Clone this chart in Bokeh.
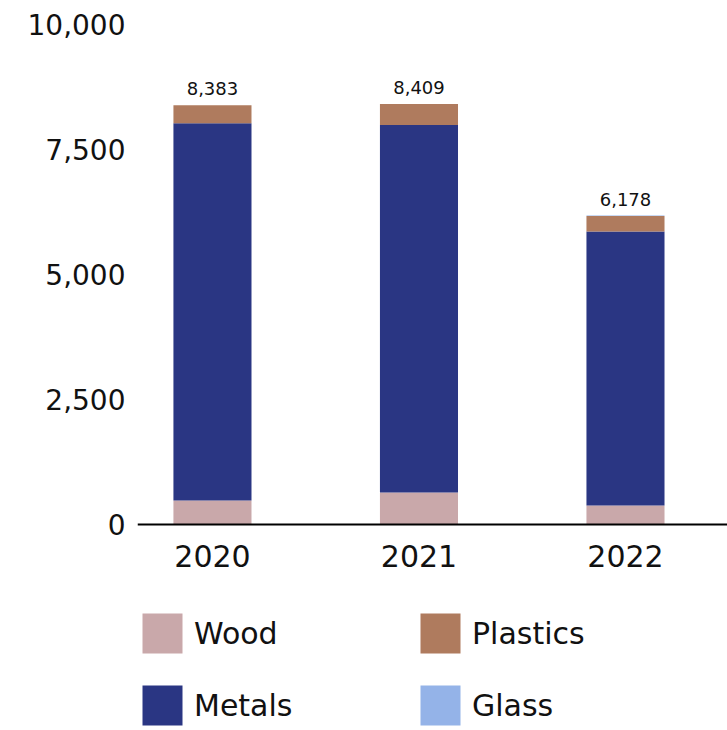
from bokeh.plotting import figure
from bokeh.models import (Range1d, FixedTicker, Legend, LegendItem, ColumnDataSource,
                          NumeralTickFormatter, Span)
from bokeh.embed import file_html
from bokeh.resources import INLINE
from bokeh.core.properties import value

# ---- data ----
years = ["2020", "2021", "2022"]
wood = [480, 640, 380]
metals = [7543, 7349, 5478]
plastics = [360, 420, 310]
glass = [0, 0, 10]
materials = ["Wood", "Metals", "Plastics", "Glass"]
colors = ["#C9A8AA", "#2A3683", "#AF7B5E", "#94B3E8"]
y_ticks = [0, 2500, 5000, 7500, 10000]

FONT = "DejaVu Sans"

x = list(range(len(years)))
totals = [sum(v) for v in zip(wood, metals, plastics, glass)]
source = ColumnDataSource(dict(
    x=x, year=years, base=[0] * len(years),
    Wood=wood, Metals=metals, Plastics=plastics, Glass=glass,
    total=totals, total_label=[f"{t:,}" for t in totals]))

# frame extends below the zero line to leave room for year labels and legend
p = figure(width=727, height=730, output_backend="svg", toolbar_location=None,
           x_range=Range1d(-0.363, 2.494), y_range=Range1d(-4120, 10000),
           x_axis_location=None,
           min_border_left=137, min_border_right=0, min_border_top=24,
           min_border_bottom=0)
p.outline_line_color = None
p.grid.grid_line_color = None
p.background_fill_color = "white"
p.border_fill_color = "white"

rs = p.vbar_stack(materials, x="x", width=0.378, source=source,
                  color=colors, line_color=None)

# baseline (x axis line)
p.add_layout(Span(location=0, dimension="width", line_color="black", line_width=2))

# category labels under the baseline
p.text(x="x", y="base", text="year", source=source,
       text_align="center", text_baseline="top", y_offset=20,
       text_font=value(FONT), text_font_size="30px", text_color="#111111")

# totals above bars
p.text(x="x", y="total", text="total_label", source=source,
       text_align="center", text_baseline="bottom", y_offset=-10,
       text_font=value(FONT), text_font_size="18px", text_color="#111111")

p.yaxis.ticker = FixedTicker(ticks=y_ticks)
p.yaxis.formatter = NumeralTickFormatter(format="0,0")
p.yaxis.axis_line_color = None
p.yaxis.major_tick_line_color = None
p.yaxis.major_tick_out = 0
p.yaxis.minor_tick_line_color = None
p.yaxis.major_label_text_font = FONT
p.yaxis.major_label_text_font_size = "28px"
p.yaxis.major_label_text_color = "#111111"
p.yaxis.major_label_standoff = 12

# legend
idx = {m: i for i, m in enumerate(materials)}
order = ["Wood", "Plastics", "Metals", "Glass"]
legend = Legend(items=[LegendItem(label=m, renderers=[rs[idx[m]]]) for m in order],
                orientation="horizontal", ncols=2, location=(0, 0),
                glyph_width=50, glyph_height=50, label_height=50,
                label_width=199, spacing=22, label_standoff=7,
                padding=0, margin=0, border_line_color=None,
                background_fill_alpha=0,
                label_text_font=FONT, label_text_font_size="30px",
                label_text_color="#111111")
p.add_layout(legend, "center")

open("out.html", "w").write(file_html(p, INLINE))
